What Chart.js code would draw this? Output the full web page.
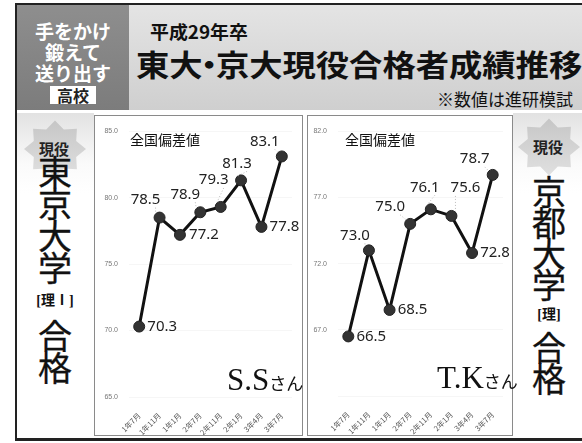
<!DOCTYPE html>
<html>
<head>
<meta charset="utf-8">
<script src="https://cdn.jsdelivr.net/npm/chart.js@4.4.1/dist/chart.umd.min.js"></script>
<style>
  body { margin: 0; width: 582px; height: 443px; overflow: hidden; background: #fff; position: relative;
         font-family: "Noto Sans CJK JP", "Noto Sans", sans-serif; color: #111; }
  .abs { position: absolute; }
  #frame { left: 15px; top: 3px; width: 570px; height: 438px; border: 2px solid #222; border-right: none;
           border-bottom: 3px solid #222; box-sizing: border-box; }
  #hdLeft { left: 17px; top: 5px; width: 112px; height: 105px; background: linear-gradient(#8e8e8e, #7c7c7c);
            color: #fff; text-align: center; font-weight: bold; font-size: 19px; line-height: 21px; }
  #hdLeft .l1 { margin-top: 15px; }
  #hdLeft .school { display: inline-block; background: #fff; color: #222; font-size: 16px; line-height: 18px;
                    padding: 0 7px; margin-top: 2px; }
  #hdRight { left: 129px; top: 5px; width: 453px; height: 105px; background: linear-gradient(#e4e4e4, #cfcfcf); }
  #year { left: 21px; top: 13px; font-size: 18px; font-weight: bold; transform: scaleX(1.05); transform-origin: left top; }
  #title { left: 7px; top: 36px; font-size: 30px; font-weight: bold; white-space: nowrap;
           transform: scaleX(1.11); transform-origin: left top; }
  #title .dot { margin: 0 -9px; }
  #note { left: 308px; top: 81px; font-size: 17px; white-space: nowrap; }
  .side { top: 113px; height: 325px; background: linear-gradient(#e2e2e2 0px, #fafafa 50px, #fff 80px); }
  .vert { text-align: center; font-size: 34px; -webkit-text-stroke: 0.3px #111; }
  .vert .small { font-size: 14px; line-height: 36px; font-weight: bold; -webkit-text-stroke: 0;
                 font-family: "Liberation Serif", "Noto Sans CJK JP", serif; white-space: nowrap; }
  .box { top: 115px; height: 321px; border: 1px solid #8a8a8a; box-sizing: border-box; background: #fff; }
  .box canvas { position: absolute; left: 0; top: 0; }
  .subttl { font-size: 14px; }
  .name { font-family: "Liberation Serif", serif; font-size: 31px; white-space: nowrap; }
  .name span { font-family: "Noto Sans CJK JP", sans-serif; font-size: 17px; }
  .star { width: 64px; height: 58px; }
  .starText { font-weight: bold; font-size: 15px; color: #222; }
</style>
</head>
<body>
<div id="frame" class="abs"></div>
<div id="hdLeft" class="abs">
  <div class="l1">手をかけ</div>
  <div>鍛えて</div>
  <div>送り出す</div>
  <div class="school">高校</div>
</div>
<div id="hdRight" class="abs">
  <div id="year" class="abs">平成29年卒</div>
  <div id="title" class="abs">東大<span class="dot">・</span>京大現役合格者成績推移</div>
  <div id="note" class="abs">※数値は進研模試</div>
</div>

<div class="abs side" style="left:17px;width:77px;"></div>
<div class="abs side" style="left:513px;width:69px;"></div>

<svg class="abs star" style="left:23px;top:120px;" viewBox="0 0 64 58">
  <defs><linearGradient id="sg" x1="0" y1="0" x2="0" y2="1"><stop offset="0" stop-color="#c6c6c6"/><stop offset="1" stop-color="#e0e0e0"/></linearGradient></defs>
  <polygon id="starPoly" fill="url(#sg)" points=""/>
</svg>
<div class="abs starText" style="left:39px;top:138px;">現役</div>
<div class="abs vert" style="left:25px;top:155px;width:60px;line-height:32px;">
  <div>東</div><div>京</div><div>大</div><div>学</div>
  <div class="small">[理Ⅰ]</div>
  <div>合</div><div>格</div>
</div>

<svg class="abs star" style="left:517px;top:118px;" viewBox="0 0 64 58">
  <polygon id="starPoly2" fill="url(#sg)" points=""/>
</svg>
<div class="abs starText" style="left:533px;top:136px;">現役</div>
<div class="abs vert" style="left:519px;top:175px;width:60px;line-height:31px;">
  <div>京</div><div>都</div><div>大</div><div>学</div>
  <div class="small" style="line-height:32px;">[理]</div>
  <div>合</div><div>格</div>
</div>

<div class="abs box" style="left:94px;width:209px;">
  <canvas id="chartTokyo" width="207" height="319"></canvas>
  <div class="abs subttl" style="left:35px;top:13px;">全国偏差値</div>
  <div class="abs name" style="left:132px;top:246px;">S.S<span>さん</span></div>
</div>
<div class="abs box" style="left:307px;width:206px;">
  <canvas id="chartKyoto" width="204" height="319"></canvas>
  <div class="abs subttl" style="left:37px;top:13px;">全国偏差値</div>
  <div class="abs name" style="left:129px;top:244px;">T.K<span>さん</span></div>
</div>

<script>
// 模試の時期
const months = ["1年7月", "1年11月", "1年1月", "2年7月", "2年11月", "2年1月", "3年4月", "3年7月"];

// 全国偏差値
const tokyoScores = [70.3, 78.5, 77.2, 78.9, 79.3, 81.3, 77.8, 83.1];
const kyotoScores = [66.5, 73.0, 68.5, 75.0, 76.1, 75.6, 72.8, 78.7];

// y axis ranges
const tokyoRange = [65, 85];
const kyotoRange = [62, 82];

// where each value label sits relative to its point
const tokyoLabelPos = [[23, 0], [-14, -18], [24, 0], [-15, -18], [-7, -27], [-4, -17], [23, 0], [-17, -15]];
const kyotoLabelPos = [[23, 0], [-14, -15], [23, 0], [-20, -17], [-6, -22], [14, -28], [23, 0], [-18, -16]];

// star badge shape
function starPoints(cx, cy, R, r, n) {
  let pts = [];
  for (let i = 0; i < n * 2; i++) {
    const a = Math.PI * i / n - Math.PI / 2;
    const rad = i % 2 === 0 ? R : r;
    pts.push((cx + rad * Math.cos(a)).toFixed(1) + "," + (cy + rad * Math.sin(a) * 0.92).toFixed(1));
  }
  return pts.join(" ");
}
document.getElementById("starPoly").setAttribute("points", starPoints(32, 29, 31, 23, 8));
document.getElementById("starPoly2").setAttribute("points", starPoints(32, 29, 31, 23, 8));

const valueLabels = {
  id: "valueLabels",
  afterDatasetsDraw(chart, args, opts) {
    const ctx = chart.ctx;
    const meta = chart.getDatasetMeta(0);
    const values = chart.data.datasets[0].data;
    ctx.save();
    meta.data.forEach((pt, i) => {
      const [dx, dy] = opts.offsets[i];
      const lx = pt.x + dx;
      const ly = pt.y + dy;
      if (dy !== 0) {
        // faint leader line
        ctx.strokeStyle = "#bbb";
        ctx.lineWidth = 1;
        ctx.setLineDash([1, 2]);
        ctx.beginPath();
        ctx.moveTo(lx + (dx < 0 ? 10 : -10), ly + 8);
        ctx.lineTo(pt.x + (dx < 0 ? -4 : 4), pt.y - 4);
        ctx.stroke();
        ctx.setLineDash([]);
      }
      ctx.font = '15px "Noto Sans", sans-serif';
      ctx.fillStyle = "#222";
      ctx.textAlign = "center";
      ctx.textBaseline = "middle";
      ctx.fillText(values[i].toFixed(1), lx, ly);
    });
    ctx.restore();
  }
};

function drawChart(id, scores, range, axisW, axisH, padRight, offsets, hideMin) {
  const ctx = document.getElementById(id).getContext("2d");
  return new Chart(ctx, {
    type: "line",
    data: {
      labels: months,
      datasets: [{
        data: scores,
        borderColor: "#111",
        borderWidth: 3,
        pointRadius: 5.5,
        pointBackgroundColor: "#333",
        pointBorderColor: "#222",
        pointBorderWidth: 1,
        tension: 0
      }]
    },
    options: {
      responsive: false,
      animation: false,
      devicePixelRatio: 1,
      layout: { padding: { top: 9, right: padRight, left: 0, bottom: 0 } },
      plugins: {
        legend: { display: false },
        tooltip: { enabled: false },
        valueLabels: { offsets: offsets }
      },
      scales: {
        x: {
          offset: true,
          grid: { display: false },
          border: { display: false },
          ticks: { minRotation: 45, maxRotation: 45, color: "#555", padding: 6,
                   font: { size: 7.5, family: '"Noto Sans CJK JP", sans-serif' } },
          afterFit: s => { s.height = axisH; }
        },
        y: {
          min: range[0],
          max: range[1],
          grid: { color: "rgba(0,0,0,0.035)", drawTicks: false },
          border: { display: false },
          ticks: {
            stepSize: 5,
            color: "#777",
            padding: 11,
            font: { size: 7, family: '"Liberation Sans", sans-serif' },
            callback: v => (hideMin && v === range[0]) ? "" : v.toFixed(1)
          },
          afterFit: s => { s.width = axisW; }
        }
      }
    },
    plugins: [valueLabels]
  });
}

drawChart("chartTokyo", tokyoScores, tokyoRange, 34, 38, 10, tokyoLabelPos, false);
drawChart("chartKyoto", kyotoScores, kyotoRange, 30, 39, 9, kyotoLabelPos, true);
</script>
</body>
</html>
